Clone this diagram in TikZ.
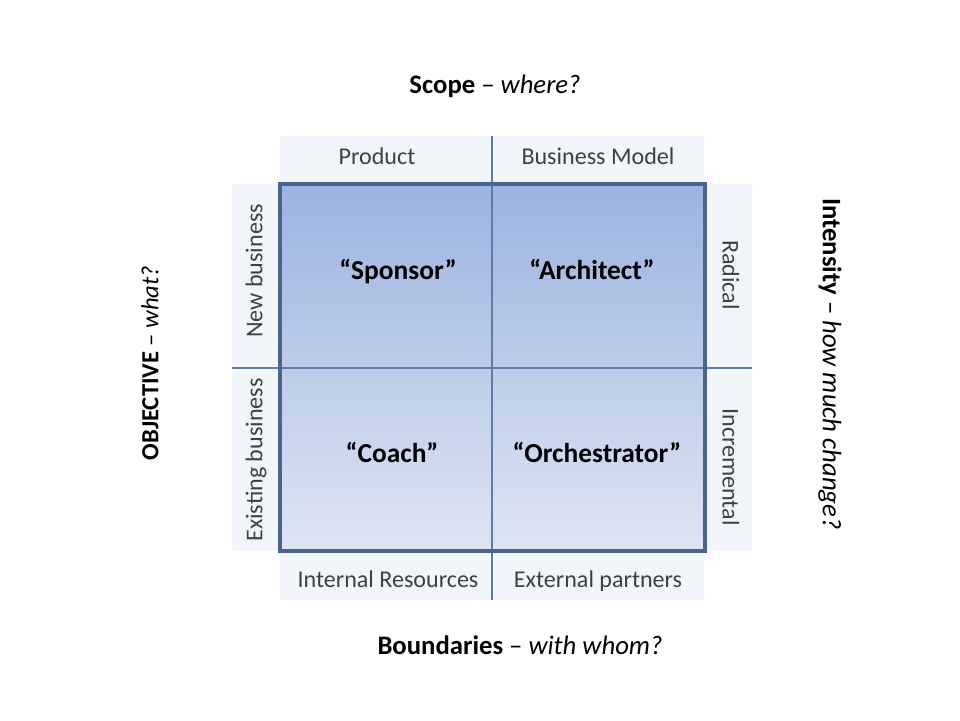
\documentclass[tikz,border=0pt]{standalone}
\usepackage{fontspec}
\setmainfont{Carlito}
\usetikzlibrary{positioning}
\definecolor{stripfill}{HTML}{F2F5FA}
\definecolor{quadtop}{HTML}{9BB3E0}
\definecolor{quadbottom}{HTML}{DEE5F3}
\definecolor{framecol}{HTML}{4A6390}
\definecolor{gridcol}{HTML}{5F7BA6}
\definecolor{labelgray}{HTML}{404040}

\begin{document}
\begin{tikzpicture}[x=0.02cm, y=-0.02cm,
	striplabel/.style={font=\fontsize{13.7}{16}\selectfont, text=labelgray, text height=0.7em, text depth=0.2em},
	rolelabel/.style={font=\fontsize{15.6}{18}\selectfont\bfseries, text height=0.7em, text depth=0.2em},
	axistitle/.style={font=\fontsize{15.2}{18}\selectfont},
	gridline/.style={draw=gridcol, line width=0.6pt},
	framebox/.style={draw=framecol, line width=1.8pt}]
	\useasboundingbox (0,0) rectangle (960,720);

	% Bandas
	\fill[stripfill] (280,136) rectangle (704,184);
	\fill[stripfill] (280,551) rectangle (704,600);
	\fill[stripfill] (232,184) rectangle (280,551);
	\fill[stripfill] (705,184) rectangle (752,551);

	% Matriz
	\shade[top color=quadtop, bottom color=quadbottom] (280,184) rectangle (705,551);
	\draw[gridline] (492,136) -- (492,600);
	\draw[gridline] (232,368) -- (752,368);
	\draw[framebox] (280,184) rectangle (705,551);

	% Etiquetas de las bandas
	\node[striplabel] (product) at (377,160) {Product};
	\node[striplabel] (bizmodel) at (598,160) {Business Model};
	\node[striplabel] (internal) at (388,583) {Internal Resources};
	\node[striplabel] (external) at (598,583) {External partners};
	\node[striplabel, rotate=90] (newbiz) at (258,271) {New business};
	\node[striplabel, rotate=90] (existbiz) at (258,460) {Existing business};
	\node[striplabel, rotate=-90] (radical) at (727,275) {Radical};
	\node[striplabel, rotate=-90] (incremental) at (727,467) {Incremental};

	% Roles
	\node[rolelabel] (sponsor) at (398,275) {“Sponsor”};
	\node[rolelabel] (architect) at (592,275) {“Architect”};
	\node[rolelabel] (coach) at (392,458) {“Coach”};
	\node[rolelabel] (orchestrator) at (597,458) {“Orchestrator”};

	% Ejes
	\node[axistitle] (scope) at (495,86) {\textbf{Scope} -- \textit{where?}};
	\node[axistitle] (boundaries) at (520,645) {\textbf{Boundaries} -- \textit{with whom?}};
	\node[axistitle, font=\fontsize{14}{17}\selectfont, rotate=90] (objective) at (150,363) {\textbf{OBJECTIVE} -- \textit{what?}};
	\node[axistitle, rotate=-90] (intensity) at (830,364) {\textbf{Intensity} -- \textit{how much change?}};
\end{tikzpicture}
\end{document}
